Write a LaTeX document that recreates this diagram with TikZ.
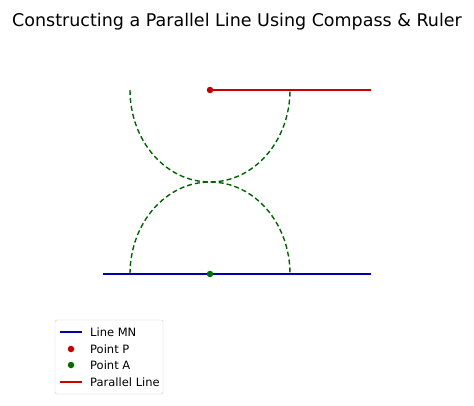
\documentclass[tikz,border=0pt]{standalone}
\usepackage{fontspec}
\setmainfont{DejaVu Sans}
\begin{document}
\begin{tikzpicture}[x=1pt,y=-1pt,
  arc/.style={dash pattern=on 5pt off 3pt, line width=1.4pt, draw={rgb,255:red,0;green,100;blue,0}},
  lbl/.style={font=\fontsize{11.5}{13}\selectfont, anchor=west, inner sep=0pt},
  dot/.style={circle, inner sep=0pt, minimum size=6.5pt}]
\definecolor{mn}{RGB}{0,0,170}
\definecolor{pp}{RGB}{200,0,0}
\definecolor{ga}{RGB}{0,110,0}
\useasboundingbox (0,0) rectangle (474,406);
\node[font=\fontsize{17.5}{20}\selectfont] (title) at (237,22) {Constructing a Parallel Line Using Compass \& Ruler};
\coordinate (M) at (103,274); \coordinate (N) at (371,274);
\coordinate (Q) at (371,90);
\draw[arc] (130,274) arc[start angle=180,end angle=360,x radius=80,y radius=92];
\draw[arc] (130,90) arc[start angle=180,end angle=0,x radius=80,y radius=92];
\draw[mn, line width=1.6pt] (M) -- (N);
\node[dot, fill=ga] (A) at (210,274) {};
\node[dot, fill=pp] (P) at (210,90) {};
\draw[pp, line width=1.6pt] (P.center) -- (Q);
% legend
\draw[rounded corners=2pt, draw=black!20, fill=white] (55,320) rectangle (163,394);
\coordinate (l1a) at (60,332); \coordinate (l1b) at (82,332);
\draw[mn, line width=1.6pt] (l1a) -- (l1b);
\node[lbl] (t1) at (90,332) {Line MN};
\node[dot, fill=pp] (d2) at (71,349) {};
\node[lbl] (t2) at (90,349) {Point P};
\node[dot, fill=ga] (d3) at (71,365) {};
\node[lbl] (t3) at (90,365) {Point A};
\coordinate (l4a) at (60,382); \coordinate (l4b) at (82,382);
\draw[pp, line width=1.6pt] (l4a) -- (l4b);
\node[lbl] (t4) at (90,382) {Parallel Line};
\end{tikzpicture}
\end{document}
